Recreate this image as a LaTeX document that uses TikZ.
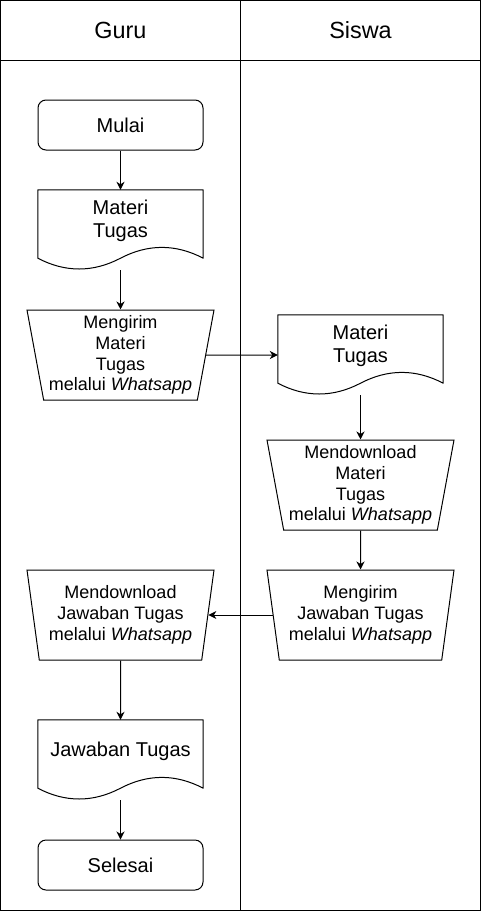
\documentclass[tikz,border=0pt]{standalone}
\usepackage{fontspec}
\setmainfont{Liberation Sans}
\usetikzlibrary{arrows.meta,shapes.geometric,positioning}
\tikzstyle{arrow} = [line width=1pt,-{Stealth[length=8pt,width=8pt,inset=2.5pt]}]
\tikzstyle{lane} = [line width=1pt, draw=black]
\tikzstyle{lanetitle} = [font=\fontsize{23.4}{27}\selectfont]
\tikzstyle{terminal} = [rectangle, rounded corners=8pt, minimum width=165pt, minimum height=50pt, draw, line width=1pt, font=\fontsize{20}{23.2}\selectfont]
\tikzstyle{manualop} = [trapezium, shape border rotate=180, trapezium angle=78.08, trapezium stretches body, minimum width=187pt, minimum height=90pt, inner sep=0pt, draw, line width=1pt, align=center, font=\fontsize{18}{20.7}\selectfont]
\tikzstyle{docshape} = [rectangle, minimum width=165pt, minimum height=80pt, inner sep=0pt,
  append after command={\pgfextra{\draw[line width=1pt, line join=round]
    (\tikzlastnode.north west) -- (\tikzlastnode.north east)
    -- ([yshift=12pt]\tikzlastnode.south east)
    .. controls +(-27.5pt,14.4pt) and +(27.5pt,14.4pt) .. ([yshift=12pt]\tikzlastnode.south)
    .. controls +(-27.5pt,-14.4pt) and +(27.5pt,-14.4pt) .. ([yshift=12pt]\tikzlastnode.south west)
    -- cycle;}}]
\tikzstyle{doctext} = [align=center, inner sep=0pt, font=\fontsize{20}{23.2}\selectfont]

\begin{document}
\begin{tikzpicture}[x=1pt, y=1pt]
\useasboundingbox (0,0) rectangle (481,-911);
% Swimlanes
\draw[lane] (0.5,-0.5) rectangle (480.5,-910.5);
\draw[lane] (240.5,-0.5) -- (240.5,-910.5);
\draw[lane] (0.5,-60.5) -- (480.5,-60.5);
\node[lanetitle] (guru) at (120.5,-30) {Guru};
\node[lanetitle] (siswa) at (360.5,-30) {Siswa};

% Guru
\node[terminal] (mulai) at (120.5,-125) {Mulai};
\node[docshape] (materiguru) at (120.5,-230) {};
\node[doctext] (materigurutext) at ([yshift=9pt]materiguru.center) {Materi\\Tugas};
\node[manualop] (kirimmateri) at (120.5,-355) {Mengirim\\Materi\\Tugas\\melalui \textit{Whatsapp}};

% Siswa
\node[docshape] (materisiswa) at (360.5,-355) {};
\node[doctext] (materisiswatext) at ([yshift=9pt]materisiswa.center) {Materi\\Tugas};
\node[manualop] (downmateri) at (360.5,-485) {Mendownload\\Materi\\Tugas\\melalui \textit{Whatsapp}};
\node[manualop] (kirimjawaban) at (360.5,-615) {Mengirim\\Jawaban Tugas\\melalui \textit{Whatsapp}};

% Guru again
\node[manualop] (downjawaban) at (120.5,-615) {Mendownload\\Jawaban Tugas\\melalui \textit{Whatsapp}};
\node[docshape] (jawaban) at (120.5,-760) {};
\node[doctext] (jawabantext) at ([yshift=9pt]jawaban.center) {Jawaban Tugas};
\node[terminal] (selesai) at (120.5,-865) {Selesai};

% Flow
\draw[arrow] (mulai) -- (materiguru);
\draw[arrow] (materiguru) -- (kirimmateri);
\draw[arrow] (kirimmateri.east) -- (materisiswa.west);
\draw[arrow] (materisiswa) -- (downmateri);
\draw[arrow] (downmateri) -- (kirimjawaban);
\draw[arrow] (kirimjawaban.west) -- (downjawaban.east);
\draw[arrow] (downjawaban) -- (jawaban);
\draw[arrow] (jawaban) -- (selesai);
\end{tikzpicture}
\end{document}
